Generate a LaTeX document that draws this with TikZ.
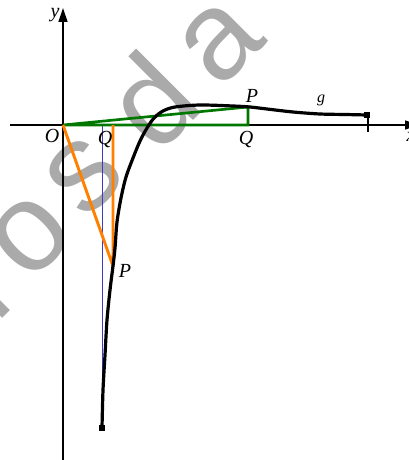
\documentclass[tikz,border=0pt]{standalone}
\usepackage{fontspec}
\setmainfont{Liberation Serif}
\newfontfamily\wmfont{Liberation Sans}
\usetikzlibrary{arrows.meta}
\definecolor{myorange}{RGB}{255,128,0}
\definecolor{mygreen}{RGB}{0,120,0}
\definecolor{myblue}{RGB}{60,60,200}
\definecolor{wmgray}{RGB}{170,170,170}
\begin{document}
\begin{tikzpicture}[x=0.75pt,y=-0.75pt,
  axis/.style={line width=1pt, -{Triangle[length=10.5pt,width=6.75pt]}},
  curvestyle/.style={line width=2.4pt, line join=round, line cap=round},
  orangeline/.style={draw=myorange, line width=2.2pt, line join=round},
  greenline/.style={draw=mygreen, line width=2pt, line join=miter},
  blueline/.style={draw=myblue, line width=0.4pt},
  lbl/.style={font=\fontsize{15}{15}\selectfont\itshape, inner sep=0pt},
  smalllbl/.style={font=\fontsize{12}{12}\selectfont\itshape, inner sep=0pt},
  endsq/.style={fill=black, minimum size=4.5pt, inner sep=0pt, draw=none},
  wm/.style={font=\wmfont\fontsize{94}{94}\selectfont, text=wmgray, inner sep=0pt, rotate=45}]
\clip (0,0) rectangle (409,460);
\useasboundingbox (0,0) rectangle (409,460);
% watermark
\node[wm] (wr) at (-13,286) {r};
\node[wm] (wo) at (31,236) {o};
\node[wm] (ws) at (84,176) {s};
\node[wm] (wd) at (150,100) {d};
\node[wm] (wa) at (221,42) {a};
% coordinates
\coordinate (O) at (63,125);
\coordinate (xs) at (10,125);
\coordinate (xe) at (419,125);
\coordinate (ys) at (63,460);
\coordinate (ye) at (63,8);
\coordinate (P1) at (113,266);
\coordinate (Q1) at (113,125);
\coordinate (P2) at (248,107);
\coordinate (Q2) at (248,125);
\coordinate (A) at (102,125);
\coordinate (B) at (102,428);
\coordinate (E) at (367,115);
\coordinate (T1) at (368,118);
\coordinate (T2) at (368,132);
% blue asymptote
\draw[blueline] (A) -- (B);
% axes
\draw[axis] (xs) -- (xe);
\draw[axis] (ys) -- (ye);
\draw[line width=1pt] (T1) -- (T2);
% green triangle
\draw[greenline] (O) -- (P2) -- (Q2) -- cycle;
% orange triangle
\draw[orangeline] (O) -- (P1) -- (Q1);
% curve
\draw[curvestyle] plot[smooth, tension=0.5] coordinates {
 (102,428) (103,390) (105,355) (107,320) (110,290) (113,266) (115,248)
 (117,222) (121,198) (126,177) (133,158) (140,141) (147,128) (154,118)
 (163,111) (175,107) (200,105) (233,106) (250,107) (267,109) (293,112)
 (320,114) (345,114.5) (367,115)};
\node[endsq] (sq1) at (B) {};
\node[endsq] (sq2) at (E) {};
% labels
\node[lbl] (ylab) at (55,15) {y};
\node[lbl] (xlab) at (411,137) {x};
\node[lbl] (Olab) at (52,136) {O};
\node[lbl] (Q1lab) at (105,139) {Q};
\node[lbl] (Q2lab) at (246,139) {Q};
\node[lbl] (P2lab) at (252,96) {P};
\node[lbl] (P1lab) at (125,271) {P};
\node[smalllbl] (glab) at (321,100) {g};
\end{tikzpicture}
\end{document}
